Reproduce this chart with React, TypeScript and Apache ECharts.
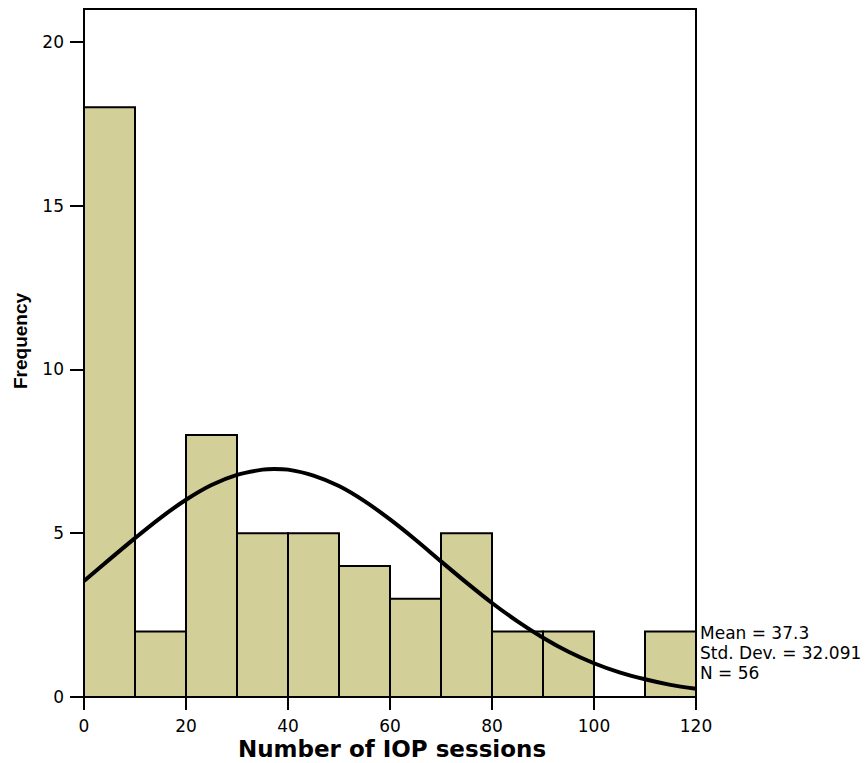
import React, { useEffect, useRef } from "react";
import * as echarts from "echarts";

// Histogram bins: [start, end]
const binStarts = [0, 10, 20, 30, 40, 50, 60, 70, 80, 90, 100, 110];
const binWidth = 10;
const counts = [18, 2, 8, 5, 5, 4, 3, 5, 2, 2, 0, 2];

// Normal curve (x, frequency)
const curveX = [0, 5, 10, 15, 20, 25, 30, 35, 37.3, 40, 45, 50, 55, 60, 65, 70, 75, 80, 85, 90, 95, 100, 105, 110, 115, 120];
const curveY = [3.54, 4.2, 4.85, 5.47, 6.02, 6.47, 6.78, 6.94, 6.96, 6.94, 6.76, 6.44, 5.98, 5.42, 4.8, 4.14, 3.49, 2.87, 2.31, 1.81, 1.38, 1.03, 0.75, 0.54, 0.37, 0.25];

const xTicks = [0, 20, 40, 60, 80, 100, 120];
const yTicks = [0, 5, 10, 15, 20];

const statsLines = ["Mean = 37.3", "Std. Dev. = 32.091", "N = 56"];
const xTitle = "Number of IOP sessions";
const yTitle = "Frequency";

export default function App() {
  const ref = useRef<HTMLDivElement>(null);
  useEffect(() => {
    if (!ref.current) return;
    const chart = echarts.init(ref.current, null, { renderer: "svg" });
    const font = "DejaVu Sans";
    const histData = binStarts.map((s, i) => [s, s + binWidth, counts[i]]);
    const curveData = curveX.map((x, i) => [x, curveY[i]]);
    chart.setOption({
      animation: false,
      backgroundColor: "#ffffff",
      grid: {
        left: 84,
        right: 169,
        top: 9,
        bottom: 66,
        show: true,
        borderColor: "#000",
        borderWidth: 2,
        backgroundColor: "transparent",
      },
      xAxis: {
        type: "value",
        min: 0,
        max: 120,
        interval: 20,
        axisLine: { show: true, onZero: false, lineStyle: { color: "#000", width: 2 } },
        axisTick: { show: true, length: 13, inside: false, lineStyle: { color: "#000", width: 2 }, customValues: xTicks },
        axisLabel: { color: "#000", fontSize: 17, fontFamily: font, margin: 20, customValues: xTicks },
        splitLine: { show: false },
      },
      yAxis: {
        type: "value",
        min: 0,
        max: 21,
        axisLine: { show: true, onZero: false, lineStyle: { color: "#000", width: 2 } },
        axisTick: { show: true, length: 14, inside: false, lineStyle: { color: "#000", width: 2 }, customValues: yTicks },
        axisLabel: { color: "#000", fontSize: 17, fontFamily: font, margin: 20, customValues: yTicks },
        splitLine: { show: false },
      },
      series: [
        {
          type: "custom",
          data: histData,
          encode: { x: [0, 1], y: 2 },
          renderItem: (params: any, api: any) => {
            const s = api.value(0);
            const e = api.value(1);
            const c = api.value(2);
            if (c <= 0) return null;
            const p0 = api.coord([s, c]);
            const p1 = api.coord([e, 0]);
            return {
              type: "rect",
              shape: { x: p0[0], y: p0[1], width: p1[0] - p0[0], height: p1[1] - p0[1] },
              style: { fill: "#d3cf99", stroke: "#000", lineWidth: 2 },
            };
          },
          z: 2,
        },
        {
          type: "line",
          data: curveData,
          smooth: 0.3,
          showSymbol: false,
          symbol: "none",
          lineStyle: { color: "#000", width: 4 },
          z: 3,
        },
      ],
      graphic: [
        ...statsLines.map((t, i) => ({
          type: "text",
          x: 700,
          y: 633 + i * 20,
          style: { text: t, fill: "#000", font: `17px "${font}"`, textAlign: "left", textVerticalAlign: "middle" },
        })),
        {
          type: "text",
          x: 392,
          y: 749,
          style: { text: xTitle, fill: "#000", font: `bold 23px "${font}"`, textAlign: "center", textVerticalAlign: "middle" },
        },
        {
          type: "text",
          x: 20,
          y: 341,
          rotation: Math.PI / 2,
          style: { text: yTitle, fill: "#000", font: `bold 19px "Liberation Sans", Arial`, textAlign: "center", textVerticalAlign: "middle" },
        },
      ],
    });
    return () => chart.dispose();
  }, []);
  return <div ref={ref} style={{ position: "fixed", left: 0, top: 0, width: 865, height: 763 }} />;
}
